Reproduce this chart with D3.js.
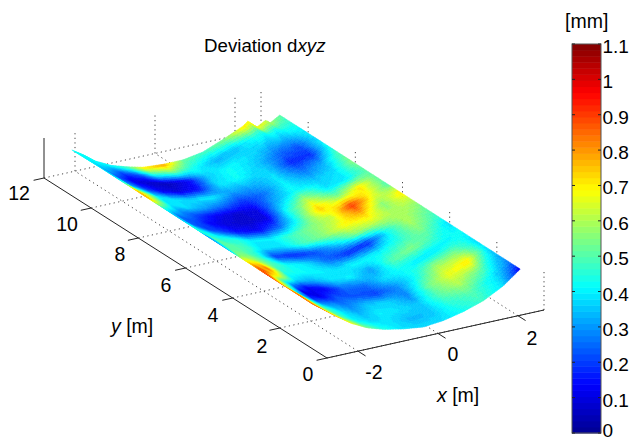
<!DOCTYPE html>
<html>
<head>
<meta charset="utf-8">
<script src="https://cdn.jsdelivr.net/npm/d3@7"></script>
<style>
body { margin: 0; background: #fff; }
text { font-family: "Liberation Sans", Arial, sans-serif; fill: #000; }
</style>
</head>
<body>
<svg id="chart" width="629" height="441"></svg>
<script>
// axis ticks and limits
var xTicks = [-2, 0, 2];
var yTicks = [0, 2, 4, 6, 8, 10, 12];
var barTicks = [0, 0.1, 0.2, 0.3, 0.4, 0.5, 0.6, 0.7, 0.8, 0.9, 1, 1.1];
var xLim = [-2.775, 2.65];
var yLim = [0, 12];
var zLim = [0, 38];

// surface height across x at the front, near the back, and on the back edge
var surfX = [-2.55, -2.275, -1.975, -1.575, -1.175, -0.775, -0.275, 0.225, 0.725, 1.225, 1.725, 2.225, 2.645];
var frontZ = [37, 29, 20, 9, 1, -4, -8, -10.5, -8.5, -4, 2.5, 13, 26];
var midZ = [38.5, 31, 21, 13.4, 8, 4, 2, 2, 5, 13, 21.4, 22.7, 27];
var backX = [-2.55, -2.275, -1.975, -1.575, -1.175, -0.775, -0.275, 0.225, 0.725, 1.225, 1.725, 1.85, 2.075, 2.3, 2.4, 2.645];
var backZ = [38, 31, 22, 14, 9, 5, 3.5, 3.5, 7, 15, 24, 28, 20, 25, 21, 27];
var edgeY = [1, 10, 11.2];

// deviation dxyz [mm], rows run from y=1 to y=11.2, columns are surfX
var devRows = [
	[.85,.85,.80,.70,.55,.45,.38,.38,.38,.42,.47,.38,.12],
	[.85,.75,.60,.50,.40,.38,.38,.33,.35,.45,.50,.40,.28],
	[.80,.85,.45,.45,.38,.33,.40,.38,.35,.50,.60,.52,.33],
	[.90,.60,.30,.20,.30,.27,.35,.37,.28,.52,.66,.72,.38],
	[.95,.75,.55,.10,.10,.22,.22,.20,.28,.42,.58,.55,.38],
	[.70,.95,.65,.30,.12,.12,.25,.25,.38,.42,.38,.40,.42],
	[.60,.78,.90,.65,.38,.32,.38,.40,.30,.50,.55,.48,.38],
	[.30,.55,.70,.85,.45,.42,.40,.38,.42,.40,.45,.55,.47],
	[.30,.45,.55,.60,.50,.42,.38,.25,.18,.17,.42,.60,.52],
	[.30,.35,.50,.52,.45,.20,.17,.22,.35,.55,.62,.60,.60],
	[.45,.48,.50,.50,.48,.38,.38,.48,.55,.68,.75,.55,.72],
	[.35,.38,.42,.42,.45,.40,.40,.48,.55,.62,.92,.68,.50],
	[.38,.30,.25,.20,.20,.15,.13,.25,.45,.75,.55,.72,.52],
	[.55,.40,.25,.22,.13,.09,.07,.10,.42,.62,.38,.40,.50],
	[.78,.72,.42,.28,.20,.12,.08,.10,.32,.42,.35,.38,.55],
	[.70,.80,.65,.38,.38,.32,.25,.18,.25,.40,.25,.33,.50],
	[.38,.55,.68,.40,.38,.38,.40,.30,.32,.38,.17,.18,.42],
	[.40,.30,.30,.20,.12,.10,.15,.38,.42,.35,.25,.22,.38],
	[.42,.30,.22,.10,.07,.05,.12,.35,.42,.38,.35,.33,.40],
	[.42,.38,.35,.20,.22,.40,.50,.42,.33,.35,.45,.42,.45],
	[.42,.42,.42,.42,.50,.72,.80,.52,.48,.55,.72,.67,.50]
];
var devY = devRows.map((r, i) => 1 + i * 0.51);

// hand placed tick label anchors, they do not follow the axis exactly
var xLabelPos = [[374, 379], [453, 361], [532, 345]];
var yLabelPos = [[308, 381], [262, 353], [213, 322], [166, 292], [120, 261], [67, 231], [19, 200]];

var svg = d3.select("#chart");

// the view is close to parallel, so every axis is a straight screen offset
var xToPx = d3.scaleLinear([xLim[0], xLim[1]], [327, 544]);
var xToPy = d3.scaleLinear([xLim[0], xLim[1]], [358, 310]);
var yToPx = d3.scaleLinear(yLim, [0, -283]);
var yToPy = d3.scaleLinear(yLim, [0, -180]);
var zToPy = d3.scaleLinear(zLim, [0, -38]);

function project(x, y, z) {
	return [xToPx(x) + yToPx(y), xToPy(x) + yToPy(y) + zToPy(z)];
}

// jet colormap with 64 levels, like the colorbar
var jet = d3.scaleLinear()
	.domain([0, 0.125, 0.375, 0.625, 0.875, 1])
	.range(["#000090", "#0000ff", "#00ffff", "#ffff00", "#ff0000", "#800000"]);
var levels = d3.range(64);
var colour = d3.scaleQuantize().domain([0, 1.1]).range(levels.map(i => jet((i + 0.5) / 64)));

// floor grid
var grid = svg.append("g")
	.attr("fill", "none")
	.attr("stroke", "#444")
	.attr("stroke-dasharray", "1.2 3.4");
var gridLine = d3.line();
var drawGrid = function (a, b) {
	grid.append("path").attr("d", gridLine([a, b]));
};
xTicks.forEach(function (x) {
	drawGrid(project(x, yLim[0], 0), project(x, yLim[1], 0));
	drawGrid(project(x, yLim[1], 0), project(x, yLim[1], zLim[1]));
});
yTicks.forEach(function (y) {
	drawGrid(project(xLim[0], y, 0), project(xLim[1], y, 0));
	drawGrid(project(xLim[1], y, 0), project(xLim[1], y, zLim[1]));
});

// surface, cut into small quads and shaded from the table
var frontHeight = d3.scaleLinear(surfX, frontZ);
var midHeight = d3.scaleLinear(surfX, midZ);
var backHeight = d3.scaleLinear(backX, backZ);
var devRowScales = devRows.map(r => d3.scaleLinear(surfX, r));
var meshX = d3.range(0, 131).map(i => -2.55 + i * 5.195 / 130);
var meshY = d3.range(0, 101).map(j => 1 + j * 0.102);
var cells = [];
meshX.slice(0, -1).forEach(function (x, i) {
	var x2 = meshX[i + 1];
	var devAtX = d3.scaleLinear(devY, devRowScales.map(s => s((x + x2) / 2)));
	var heightAt = function (xx, y) {
		return d3.scaleLinear(edgeY, [frontHeight(xx), midHeight(xx), backHeight(xx)])(y);
	};
	meshY.slice(0, -1).forEach(function (y, j) {
		var y2 = meshY[j + 1];
		cells.push({
			dev: devAtX((y + y2) / 2),
			pts: [
				project(x, y, heightAt(x, y)),
				project(x2, y, heightAt(x2, y)),
				project(x2, y2, heightAt(x2, y2)),
				project(x, y2, heightAt(x, y2))
			]
		});
	});
});
svg.append("g").selectAll("path")
	.data(cells)
	.join("path")
	.attr("d", d => gridLine(d.pts) + "Z")
	.attr("fill", d => colour(d.dev))
	.attr("stroke", d => colour(d.dev))
	.attr("stroke-width", 0.5);

// axis lines
var axes = svg.append("g").attr("fill", "none").attr("stroke", "#222");
axes.append("path").attr("d", gridLine([project(xLim[0], 0, 0), project(xLim[1], 0, 0)]));
axes.append("path").attr("d", gridLine([project(xLim[0], 0, 0), project(xLim[0], 12, 0)]));
axes.append("path").attr("d", gridLine([project(xLim[0], 12, 0), project(xLim[0], 12, 40)]));
xTicks.forEach(function (x) {
	axes.append("path").attr("d", gridLine([project(x, 0, 0), project(x, -0.32, 0)]));
});
yTicks.forEach(function (y) {
	axes.append("path").attr("d", gridLine([project(xLim[0], y, 0), project(xLim[0] - 0.26, y, 0)]));
});

var labels = svg.append("g").attr("font-size", 19.5);
xTicks.forEach(function (x, i) {
	labels.append("text").attr("x", xLabelPos[i][0]).attr("y", xLabelPos[i][1])
		.attr("text-anchor", "middle").text(x);
});
yTicks.forEach(function (y, i) {
	labels.append("text").attr("x", yLabelPos[i][0]).attr("y", yLabelPos[i][1])
		.attr("text-anchor", "middle").text(y);
});

var xName = svg.append("text").attr("x", 437).attr("y", 402).attr("font-size", 19.5);
xName.append("tspan").attr("font-style", "italic").text("x");
xName.append("tspan").text(" [m]");
var yName = svg.append("text").attr("x", 111).attr("y", 333).attr("font-size", 19.5);
yName.append("tspan").attr("font-style", "italic").text("y");
yName.append("tspan").text(" [m]");

var title = svg.append("text").attr("x", 204).attr("y", 52).attr("font-size", 18.7);
title.append("tspan").text("Deviation d");
title.append("tspan").attr("font-style", "italic").text("xyz");

// colorbar
var barY = d3.scaleLinear([0, 1.1], [433, 44]);
var barLeft = 572, barRight = 601;
var barStep = 1.1 / 64;
svg.append("g").selectAll("rect")
	.data(levels)
	.join("rect")
	.attr("x", barLeft)
	.attr("width", barRight - barLeft)
	.attr("y", i => barY((i + 1) * barStep))
	.attr("height", barY(0) - barY(barStep) + 0.5)
	.attr("fill", i => colour((i + 0.5) * barStep));
svg.append("rect")
	.attr("x", barLeft).attr("y", barY(1.1))
	.attr("width", barRight - barLeft).attr("height", barY(0) - barY(1.1))
	.attr("fill", "none").attr("stroke", "#555");
barTicks.forEach(function (t) {
	svg.append("path").attr("stroke", "#222")
		.attr("d", gridLine([[barLeft, barY(t)], [barLeft + 3, barY(t)]]));
	svg.append("path").attr("stroke", "#222")
		.attr("d", gridLine([[barRight - 3, barY(t)], [barRight, barY(t)]]));
	svg.append("text").attr("x", 602.5).attr("y", Math.min(barY(t) + 9, 437))
		.attr("font-size", 19).text(t);
});
svg.append("text").attr("x", 565).attr("y", 28).attr("font-size", 19.5).text("[mm]");
</script>
</body>
</html>
